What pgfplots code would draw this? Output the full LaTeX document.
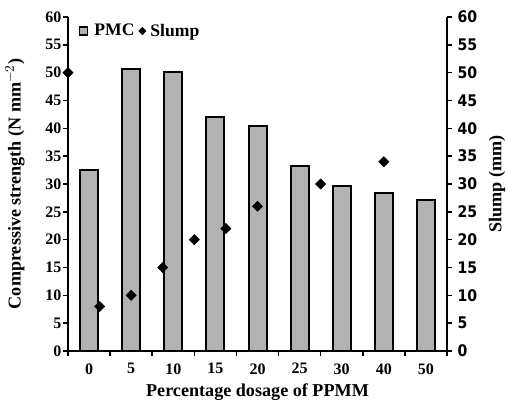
\documentclass[border=0pt]{standalone}
\usepackage{fontspec}
\setmainfont{Liberation Serif}
\newfontfamily\tickfont{DejaVu Sans}[FakeStretch=0.88]
\usepackage{pgfplots}
\pgfplotsset{compat=1.18}
\definecolor{barfill}{RGB}{178,178,178}

\begin{document}
\begin{tikzpicture}
\pgfplotsset{
  every axis/.append style={
    width=284.25pt, height=250.5pt, scale only axis,
    ymin=0, ymax=60, ytick={0,5,...,60},
    axis line style={line width=1.5pt},
    tick style={line width=1.2pt, black},
    major tick length=3.75pt, minor tick length=3.75pt,
    tick align=outside,
    /pgf/number format/assume math mode=true,
    label style={font=\fontsize{13.6}{15}\selectfont\bfseries, inner sep=0pt},
  },
}
\begin{axis}[
  ybar, bar width=13.5pt,
  xmin=-0.5, xmax=8.5,
  axis x line*=bottom, axis y line*=left,
  xtick={0,...,8}, xticklabels={0,5,10,15,20,25,30,40,50},
  major x tick style={draw=none},
  minor xtick={-0.5,0.5,...,8.5},
  xticklabel style={font=\fontsize{12}{14}\selectfont\bfseries, yshift=-2pt},
  yticklabel style={font=\fontsize{12}{14}\selectfont\bfseries, inner sep=1pt},
  xlabel={Percentage dosage of PPMM},
  ylabel={Compressive strength (N mm$^{-2}$)},
  xlabel style={at={(axis description cs:0.5,-0.122)}, anchor=center},
  ylabel style={at={(axis description cs:-0.14,0.5)}, anchor=center},
]
\addplot[fill=barfill, draw=black, line width=1.5pt] coordinates {
 (0,32.6) (1,50.6) (2,50.2) (3,42.1) (4,40.5) (5,33.3) (6,29.7) (7,28.3) (8,27.1)
};
\end{axis}
\begin{axis}[
  xmin=0, xmax=60,
  axis y line*=right, axis x line=none,
  clip=false,
  yticklabel style={font={\tickfont\bfseries\fontsize{12}{14}\selectfont}, inner sep=1pt, xshift=3pt},
  ylabel={Slump (mm)},
  ylabel style={at={(axis description cs:1.132,0.5)}, anchor=center},
  legend style={at={(0,1)}, anchor=north west, xshift=8pt, yshift=-3pt,
    draw=none, fill=none, inner sep=0pt, legend columns=2,
    font=\fontsize{13.2}{15}\selectfont\bfseries,
    /tikz/every even column/.append style={column sep=1pt}},
]
\addlegendimage{legend image code/.code={\draw[fill=barfill, draw=black, line width=0.9pt] (0pt,-3pt) rectangle (6pt,3pt); \path (9pt,0pt);}}
\addlegendentry{PMC}
\addlegendimage{legend image code/.code={\fill[black] (2.7pt,2.8pt) -- (5.4pt,0pt) -- (2.7pt,-2.8pt) -- (0pt,0pt) -- cycle; \path (6.5pt,0pt);}}
\addlegendentry{Slump}
\addplot[only marks, mark=square*, mark size=2.7pt, mark options={rotate=45, fill=black, draw=black}, forget plot] coordinates {
 (0,50) (5,8) (10,10) (15,15) (20,20) (25,22) (30,26) (40,30) (50,34)
};
\end{axis}
\path ([shift={(-51pt,-41.25pt)}]current axis.south west) rectangle ([shift={(45.75pt,12.75pt)}]current axis.north east);
\end{tikzpicture}
\end{document}
